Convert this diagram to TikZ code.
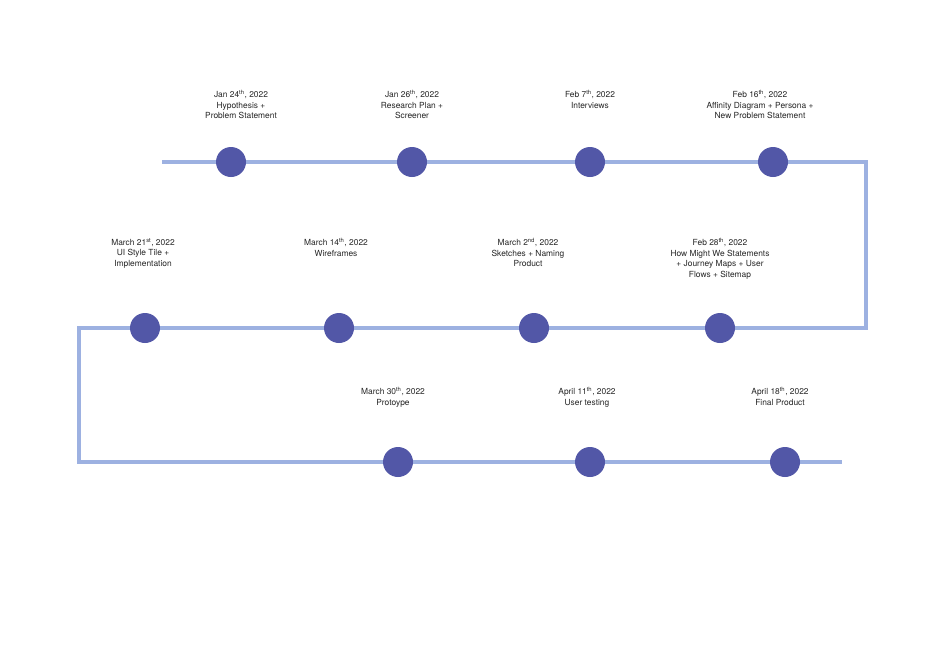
\documentclass[tikz,border=0pt]{standalone}
\usepackage{fontspec}
\setmainfont{TeX Gyre Heros}
\definecolor{lineblue}{HTML}{9DB1E1}
\definecolor{dot}{HTML}{5257A7}
\begin{document}
\begin{tikzpicture}[x=1pt,y=-1pt,
  track/.style={draw=lineblue,line width=4.5pt},
  milestone/.style={circle,fill=dot,minimum size=30pt,inner sep=0pt},
  lbl/.style={anchor=north,align=center,font=\fontsize{8.4}{10.5}\selectfont,text=black!85}]
\fill[white] (0,0) rectangle (940,648);
\coordinate (s) at (162,162);
\coordinate (c1) at (866,162);
\coordinate (c2) at (866,328);
\coordinate (c3) at (79,328);
\coordinate (c4) at (79,462);
\coordinate (e) at (842,462);
\draw[track] (s) -- (c1) -- (c2) -- (c3) -- (c4) -- (e);
\foreach \n/\x/\y in {a/231/162,b/412/162,c/590/162,d/773/162,
  e2/720/328,f/534/328,g/339/328,h/145/328,i/398/462,j/590/462,k/785/462}
  \node[milestone] (\n) at (\x,\y) {};
\node[lbl] (ta) at (241,87) {Jan 24\textsuperscript{th}, 2022\\Hypothesis +\\Problem Statement};
\node[lbl] (tb) at (412,87) {Jan 26\textsuperscript{th}, 2022\\Research Plan +\\Screener};
\node[lbl] (tc) at (590,87) {Feb 7\textsuperscript{th}, 2022\\Interviews};
\node[lbl] (td) at (760,87) {Feb 16\textsuperscript{th}, 2022\\Affinity Diagram + Persona +\\New Problem Statement};
\node[lbl] (te) at (720,235) {Feb 28\textsuperscript{th}, 2022\\How Might We Statements\\+ Journey Maps + User\\Flows + Sitemap};
\node[lbl] (tf) at (528,235) {March 2\textsuperscript{nd}, 2022\\Sketches + Naming\\Product};
\node[lbl] (tg) at (336,235) {March 14\textsuperscript{th}, 2022\\Wireframes};
\node[lbl] (th) at (143,235) {March 21\textsuperscript{st}, 2022\\UI Style Tile +\\Implementation};
\node[lbl] (ti) at (393,384) {March 30\textsuperscript{th}, 2022\\Protoype};
\node[lbl] (tj) at (587,384) {April 11\textsuperscript{th}, 2022\\User testing};
\node[lbl] (tk) at (780,384) {April 18\textsuperscript{th}, 2022\\Final Product};
\end{tikzpicture}
\end{document}
